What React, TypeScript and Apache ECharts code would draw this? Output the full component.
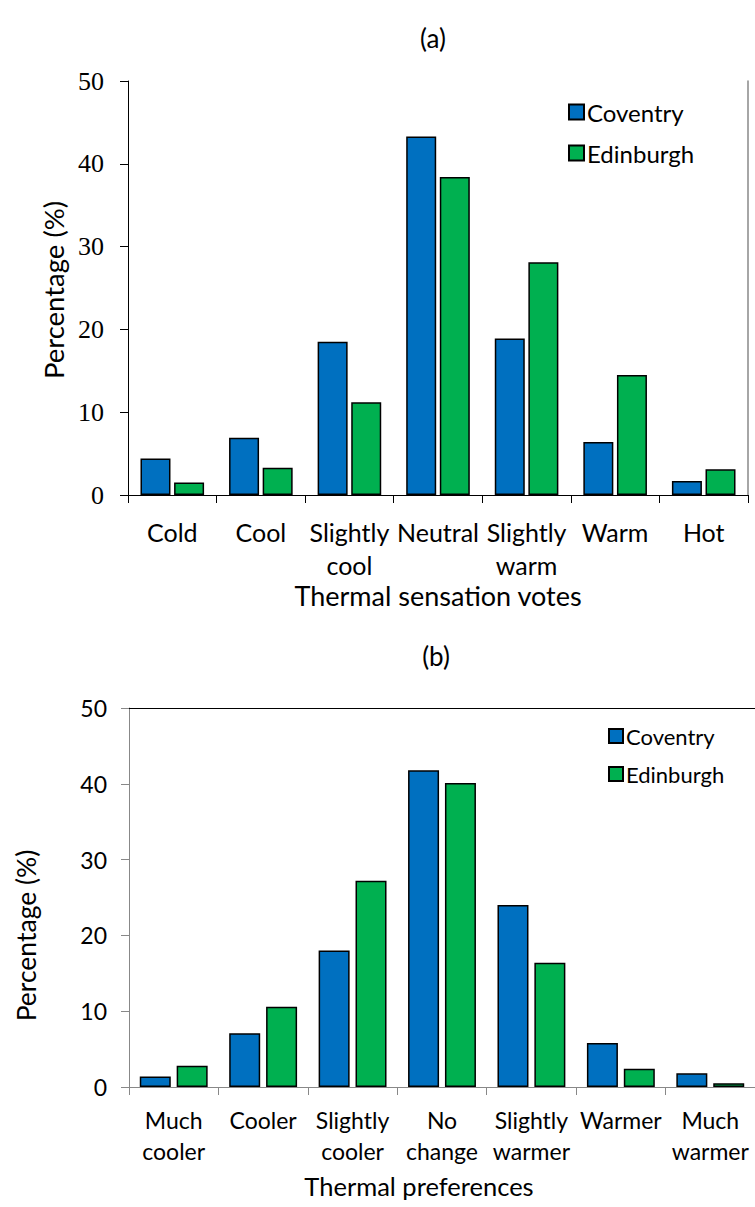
import React, { useEffect, useRef } from "react";
import * as echarts from "echarts";

const sensationCats = ["Cold", "Cool", "Slightly\ncool", "Neutral", "Slightly\nwarm", "Warm", "Hot"];
const sensationCoventry = [4.4, 6.9, 18.5, 43.3, 18.9, 6.4, 1.7];
const sensationEdinburgh = [1.5, 3.3, 11.2, 38.4, 28.1, 14.5, 3.1];

const prefCats = ["Much\ncooler", "Cooler", "Slightly\ncooler", "No\nchange", "Slightly\nwarmer", "Warmer", "Much\nwarmer"];
const prefCoventry = [1.4, 7.1, 18.0, 41.8, 24.0, 5.8, 1.8];
const prefEdinburgh = [2.8, 10.6, 27.2, 40.1, 16.4, 2.4, 0.5];

const SANS = "Lato";
const SERIF = "Liberation Serif";
const BLUE = "#0070C0";
const GREEN = "#00B050";

export default function App() {
  const ref = useRef<HTMLDivElement>(null);
  useEffect(() => {
    if (!ref.current) return;
    const chart = echarts.init(ref.current, null, { renderer: "svg" });
    const barStyle = (c: string) => ({ color: c, borderColor: "#000", borderWidth: 1.5 });
    chart.setOption({
      animation: false,
      backgroundColor: "#fff",
      graphic: [
        { type: "text", x: 433, y: 38, style: { text: "(a)", font: `26px ${SANS}`, fill: "#000", align: "center", verticalAlign: "middle" } },
        { type: "text", x: 436, y: 656, style: { text: "(b)", font: `26px ${SANS}`, fill: "#000", align: "center", verticalAlign: "middle" } },
      ],
      grid: [
        { left: 128, top: 81, width: 620, height: 414 },
        { left: 129, top: 708, width: 632, height: 379 },
      ],
      legend: [
        {
          orient: "vertical", left: 563, top: 93, itemWidth: 15, itemHeight: 15, itemGap: 13,
          icon: "rect", data: ["Coventry", "Edinburgh"],
          textStyle: { fontFamily: SANS, fontSize: 24, lineHeight: 28, color: "#000", padding: [0, 0, 0, -2] },
        },
        {
          orient: "vertical", left: 603, top: 718, itemWidth: 14, itemHeight: 14, itemGap: 12,
          icon: "rect", data: ["Coventry", "Edinburgh"],
          textStyle: { fontFamily: SANS, fontSize: 22, lineHeight: 26, color: "#000", padding: [0, 0, 0, -2] },
        },
      ],
      xAxis: [
        {
          type: "category", gridIndex: 0, data: sensationCats,
          axisLine: { lineStyle: { color: "#000", width: 1 } },
          axisTick: { show: true, length: 8, lineStyle: { color: "#000" } },
          axisLabel: { fontFamily: SANS, fontSize: 25, color: "#000", lineHeight: 33, margin: 20, interval: 0 },
          name: "Thermal sensation votes", nameLocation: "middle", nameGap: 81,
          nameTextStyle: { fontFamily: SANS, fontSize: 27, color: "#000" },
        },
        {
          type: "category", gridIndex: 0, position: "top", data: sensationCats,
          axisLine: { lineStyle: { color: "#000" } }, axisTick: { show: false }, axisLabel: { show: false },
        },
        {
          type: "category", gridIndex: 1, data: prefCats,
          axisLine: { lineStyle: { color: "#888", width: 1 } },
          axisTick: { show: true, length: 8, lineStyle: { color: "#888" } },
          axisLabel: { fontFamily: SANS, fontSize: 23, color: "#000", lineHeight: 31, margin: 17, interval: 0 },
          name: "Thermal preferences", nameLocation: "middle", nameGap: 86,
          nameTextStyle: { fontFamily: SANS, fontSize: 25.5, color: "#000", padding: [0, 46, 0, 0] },
        },
        {
          type: "category", gridIndex: 1, position: "top", data: prefCats,
          axisLine: { lineStyle: { color: "#000" } }, axisTick: { show: false }, axisLabel: { show: false },
        },
      ],
      yAxis: [
        {
          type: "value", gridIndex: 0, min: 0, max: 50, interval: 10,
          axisLine: { show: true, lineStyle: { color: "#000" } },
          axisTick: { show: true, length: 8, lineStyle: { color: "#000" } },
          splitLine: { show: false },
          axisLabel: { fontFamily: SERIF, fontSize: 26, color: "#000", margin: 24 },
          name: "Percentage (%)", nameLocation: "middle", nameGap: 57,
          nameTextStyle: { fontFamily: SANS, fontSize: 27.5, color: "#000", padding: [0, 4, 0, 0] },
        },
        {
          type: "value", gridIndex: 0, position: "right", min: 0, max: 50, interval: 10,
          axisLine: { show: true, lineStyle: { color: "#888", width: 1.5 } },
          axisTick: { show: false }, axisLabel: { show: false }, splitLine: { show: false },
        },
        {
          type: "value", gridIndex: 1, min: 0, max: 50, interval: 10,
          axisLine: { show: true, lineStyle: { color: "#888" } },
          axisTick: { show: true, length: 8, lineStyle: { color: "#888" } },
          splitLine: { show: false },
          axisLabel: { fontFamily: SANS, fontSize: 23, color: "#000", margin: 22 },
          name: "Percentage (%)", nameLocation: "middle", nameGap: 90,
          nameTextStyle: { fontFamily: SANS, fontSize: 26.5, color: "#000", padding: [0, 76, 0, 0] },
        },
      ],
      series: [
        { name: "Coventry", type: "bar", xAxisIndex: 0, yAxisIndex: 0, data: sensationCoventry, barWidth: 30, barGap: "12%", itemStyle: barStyle(BLUE) },
        { name: "Edinburgh", type: "bar", xAxisIndex: 0, yAxisIndex: 0, data: sensationEdinburgh, barWidth: 30, barGap: "12%", itemStyle: barStyle(GREEN) },
        { name: "Coventry", type: "bar", xAxisIndex: 2, yAxisIndex: 2, data: prefCoventry, barWidth: 31, barGap: "19%", itemStyle: barStyle(BLUE) },
        { name: "Edinburgh", type: "bar", xAxisIndex: 2, yAxisIndex: 2, data: prefEdinburgh, barWidth: 31, barGap: "19%", itemStyle: barStyle(GREEN) },
      ],
    });
    return () => chart.dispose();
  }, []);
  return <div ref={ref} style={{ position: "absolute", left: 0, top: 0, width: 755, height: 1207 }} />;
}
